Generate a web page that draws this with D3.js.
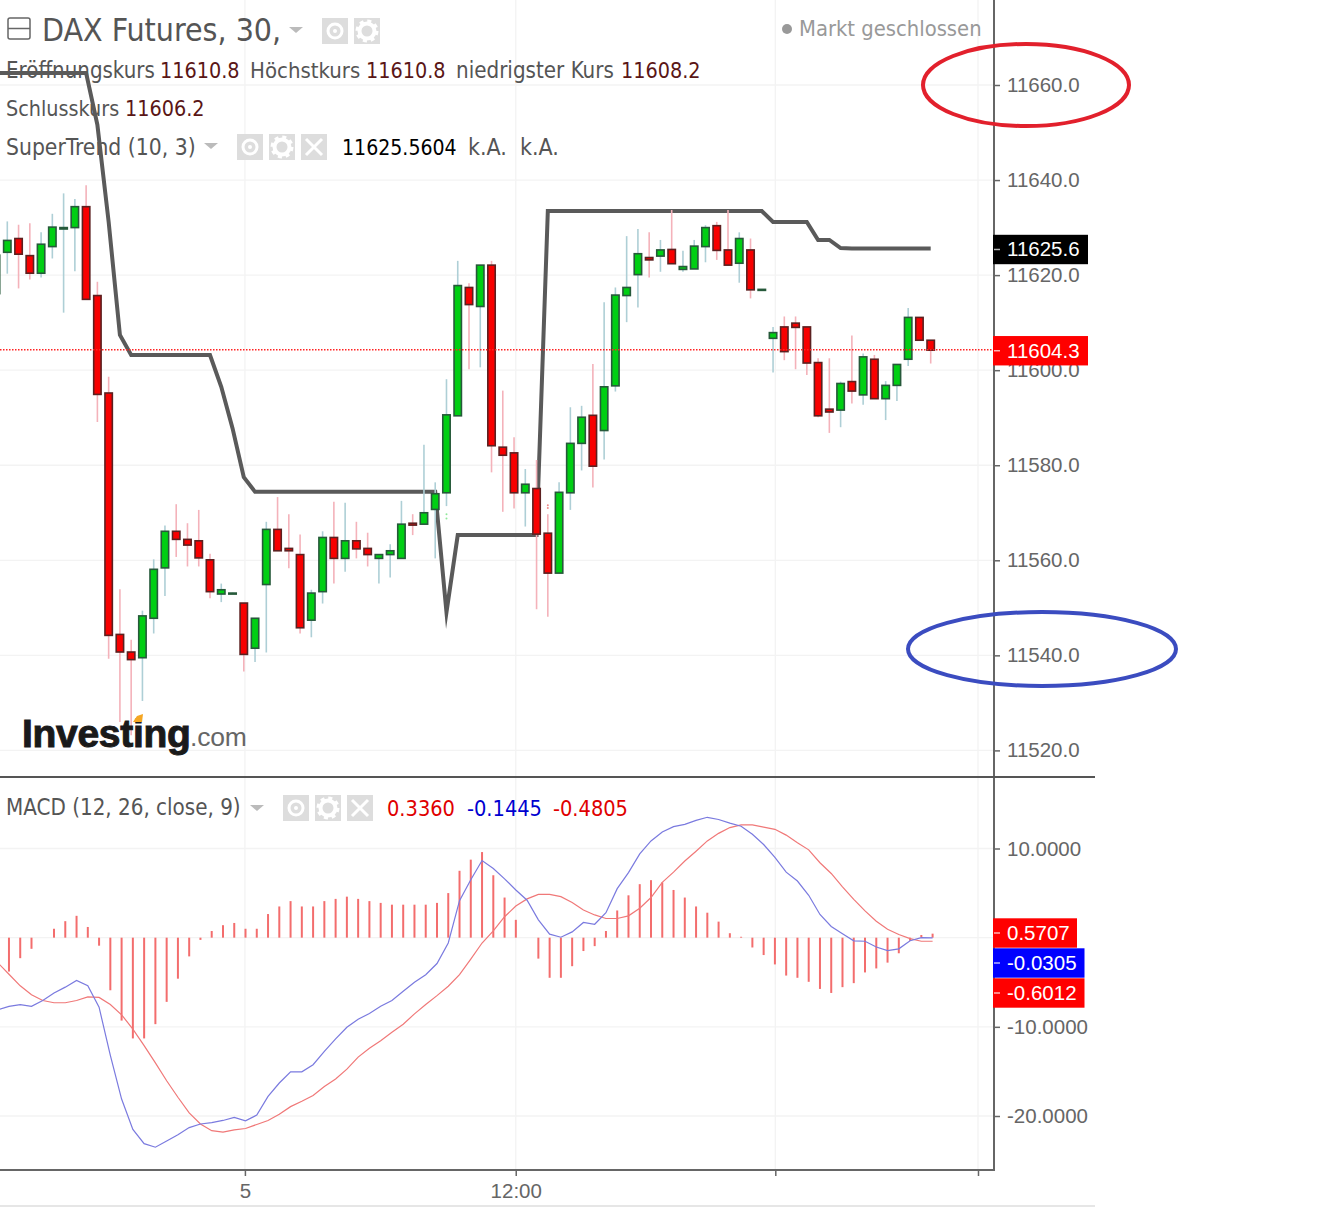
<!DOCTYPE html>
<html>
<head>
<meta charset="utf-8">
<title>DAX Futures</title>
<script src="https://cdn.jsdelivr.net/npm/d3@7"></script>
<style>
  body { margin: 0; background: #fff; }
  svg { display: block; }
  .legend { font-family: "DejaVu Sans Condensed", "DejaVu Sans", sans-serif; font-stretch: condensed; }
  .axis text, .badge text { font-family: "Liberation Sans", Arial, sans-serif; font-size: 20.5px; }
</style>
</head>
<body>
<div id="chart"></div>
<script>
// candles (first one is cut by the left edge)
const opens = [11616.1,11624.8,11627.7,11624.1,11620.4,11626.0,11629.7,11630.0,11634.4,11615.7,11595.2,11544.4,11540.7,11539.5,11547.8,11558.4,11566.1,11564.4,11564.1,11560.1,11552.9,11553.1,11551.0,11541.5,11554.9,11566.5,11562.5,11561.2,11547.4,11553.4,11564.8,11560.4,11564.1,11562.5,11560.4,11561.2,11560.4,11567.8,11567.6,11570.7,11574.2,11590.4,11617.4,11613.4,11622.1,11583.8,11582.6,11574.2,11575.1,11565.7,11557.3,11574.2,11584.6,11590.5,11587.3,11596.7,11615.7,11620.1,11623.7,11624.0,11625.4,11621.2,11621.3,11626.0,11630.4,11625.3,11622.5,11625.3,11616.8,11606.7,11609.1,11609.9,11609.1,11601.6,11591.8,11591.6,11597.6,11594.8,11602.3,11594.0,11596.8,11602.3,11611.1,11606.3];
const highs = [11626.0,11631.3,11630.6,11630.9,11629.0,11632.9,11637.2,11636.0,11638.9,11618.6,11598.6,11553.9,11543.3,11549.4,11560.2,11567.3,11571.8,11567.8,11570.6,11561.4,11555.1,11553.2,11551.0,11547.8,11568.1,11573.3,11569.7,11565.4,11553.8,11566.1,11572.3,11572.1,11568.1,11565.8,11561.2,11563.4,11572.5,11569.7,11584.3,11576.4,11598.1,11623.0,11618.3,11622.1,11623.0,11595.7,11585.9,11579.2,11581.1,11569.7,11576.4,11592.2,11592.5,11601.3,11614.3,11617.4,11628.2,11629.7,11629.0,11627.4,11633.7,11625.1,11627.4,11630.5,11631.2,11633.7,11629.0,11627.7,11617.0,11609.1,11611.3,11611.3,11609.1,11602.5,11602.5,11597.6,11607.3,11603.5,11603.2,11597.7,11601.2,11613.1,11611.1,11606.3];
const lows = [11612.0,11620.3,11617.2,11619.1,11619.5,11623.5,11612.1,11620.8,11614.9,11589.1,11539.3,11526.0,11523.2,11530.4,11544.6,11552.5,11560.7,11558.7,11558.7,11552.0,11551.2,11553.1,11536.6,11538.6,11540.6,11562.0,11558.3,11544.6,11543.8,11550.9,11555.1,11557.6,11560.4,11558.7,11555.1,11556.4,11560.4,11565.3,11567.6,11560.4,11571.4,11590.4,11600.2,11600.6,11578.5,11570.2,11570.9,11567.1,11549.7,11548.1,11557.3,11570.6,11578.9,11575.3,11581.2,11595.5,11610.1,11613.2,11619.5,11620.7,11622.4,11620.7,11621.3,11622.7,11623.2,11622.1,11618.4,11615.1,11616.8,11599.5,11602.1,11600.2,11599.0,11590.1,11586.8,11588.0,11593.0,11592.7,11594.0,11589.5,11593.5,11600.9,11606.3,11601.4];
const closes = [11624.2,11627.3,11624.4,11620.4,11626.5,11630.1,11630.0,11634.4,11614.9,11594.9,11544.2,11540.7,11539.1,11548.3,11558.1,11566.1,11564.4,11563.2,11560.5,11553.4,11553.8,11553.1,11540.2,11547.8,11566.5,11562.0,11562.0,11545.8,11553.1,11564.8,11560.4,11564.1,11562.4,11561.2,11561.2,11562.0,11567.6,11567.4,11570.0,11574.0,11590.6,11617.8,11613.8,11622.1,11584.1,11582.1,11574.2,11576.0,11565.5,11557.3,11574.3,11584.6,11590.1,11579.8,11596.5,11615.8,11617.4,11624.5,11623.2,11625.3,11622.4,11621.8,11626.1,11630.0,11625.2,11622.1,11627.7,11616.9,11617.0,11607.9,11603.9,11609.0,11601.5,11590.4,11591.2,11597.2,11595.6,11602.8,11594.0,11596.8,11601.2,11611.1,11606.3,11604.2];

// supertrend (10, 3)
const superTrend = [11662.5,11662.5,11662.5,11662.5,11662.5,11662.5,11662.5,11662.5,11662.5,11651.6,11631.2,11607.4,11603.2,11603.2,11603.2,11603.2,11603.2,11603.2,11603.2,11603.2,11596.5,11587.8,11577.5,11574.4,11574.4,11574.4,11574.4,11574.4,11574.4,11574.4,11574.4,11574.4,11574.4,11574.4,11574.4,11574.4,11574.4,11574.4,11574.4,11574.4,11549.1,11565.3,11565.3,11565.3,11565.3,11565.3,11565.3,11565.3,11565.3,11633.5,11633.5,11633.5,11633.5,11633.5,11633.5,11633.5,11633.5,11633.5,11633.5,11633.5,11633.5,11633.5,11633.5,11633.5,11633.5,11633.5,11633.5,11633.5,11633.5,11631.2,11631.2,11631.2,11631.2,11627.4,11627.4,11625.7,11625.6,11625.6,11625.6,11625.6,11625.6,11625.6,11625.6,11625.6];

// macd (12, 26, close, 9)
const macdHist = [-3.0,-3.8,-2.3,-1.25,0,1.0,1.85,2.45,1.2,-0.9,-5.9,-9.3,-11.3,-11.3,-9.7,-7.2,-4.6,-2.1,-0.25,0.75,1.4,1.65,1.0,1.0,2.65,3.5,4.1,3.5,3.5,4.1,4.35,4.6,4.35,4.1,3.9,3.7,3.7,3.7,3.7,3.9,5.0,7.5,8.75,9.6,7.0,4.5,2.0,0,-2.35,-4.5,-4.5,-3.2,-1.5,-0.95,0.75,3.05,4.75,6.0,6.45,6.2,5.35,4.5,3.5,2.8,1.8,0.5,0.1,-1.1,-1.95,-3.0,-4.25,-4.5,-4.95,-5.75,-6.2,-5.55,-5.1,-3.9,-3.45,-2.8,-1.75,-0.35,0.3,0.45];
const macdLine = [-8.1,-7.7,-7.5,-7.7,-7.05,-6.2,-5.55,-4.8,-5.4,-7.8,-13.2,-18.1,-21.5,-23.1,-23.5,-22.8,-22.1,-21.3,-20.9,-20.75,-20.5,-20.15,-20.55,-19.9,-17.8,-16.3,-15.05,-15.05,-14.25,-12.75,-11.35,-10.05,-9.15,-8.5,-7.7,-7.05,-6.0,-5.0,-4.15,-2.9,-0.6,4.15,6.5,8.65,7.75,6.6,5.35,4.2,2.0,0.4,0.05,0.65,1.7,1.5,2.8,5.5,7.3,9.4,10.85,11.85,12.45,12.7,13.15,13.5,13.25,12.85,12.5,11.6,10.45,9.0,7.35,6.35,4.75,2.6,1.25,0.45,-0.35,-0.4,-1.05,-1.45,-1.25,-0.35,0,-0.03];
const macdSignal = [-2.8,-4.1,-5.4,-6.4,-7.05,-7.3,-7.3,-7.05,-6.65,-6.7,-7.5,-8.65,-10.25,-12.1,-14.05,-16.05,-17.9,-19.65,-20.9,-21.65,-21.8,-21.55,-21.4,-20.95,-20.5,-19.8,-18.95,-18.35,-17.7,-16.7,-15.85,-14.75,-13.4,-12.4,-11.55,-10.6,-9.7,-8.55,-7.5,-6.5,-5.45,-4.15,-2.4,-0.6,0.75,2.35,3.55,4.35,4.85,4.85,4.6,3.95,3.1,2.55,2.15,2.15,2.45,3.3,4.5,6.2,7.35,8.6,9.7,10.85,11.7,12.35,12.65,12.65,12.4,12.15,11.5,10.65,9.85,8.4,7.2,5.7,4.3,3.0,1.85,0.95,0.35,-0.1,-0.4,-0.4];

// axis ticks
const priceTicks = [11660,11640,11620,11600,11580,11560,11540,11520];
const macdTicks = [10,-10,-20];
const macdGrid = [10,0,-10,-20];
const timeTicks = [22.1,46.15,69.2,87.2];
const timeLabels = ["5","12:00","",""];
const lastPrice = 11604.3;
const lastTrend = 11625.6;
const macdBadges = ["0.5707","-0.0305","-0.6012"];
const macdBadgeColors = ["#f00","#00f","#f00"];

const width = 1319;
const height = 1210;
const axisX = 994;

const svg = d3.select("#chart").append("svg")
    .attr("width", width)
    .attr("height", height);

// the macd pane sits a hair to the right of the candles in the screenshot
const x = d3.scaleLinear().domain([0, 83]).range([-3.96, 930.7]);
const xMacd = d3.scaleLinear().domain([0, 83]).range([-2.3, 932.6]);
const y = d3.scaleLinear().domain([11660, 11520]).range([85, 750.4]);
const yMacd = d3.scaleLinear().domain([10, -20]).range([848.5, 1116]);

const idx = d3.range(opens.length);

// grid
const grid = svg.append("g").attr("stroke", "#f3f3f3").attr("stroke-width", 1.3);
grid.selectAll(".hp").data(priceTicks).enter().append("line")
    .attr("x1", 0).attr("x2", axisX).attr("y1", d => y(d)).attr("y2", d => y(d));
grid.selectAll(".hm").data(macdGrid).enter().append("line")
    .attr("x1", 0).attr("x2", axisX).attr("y1", d => yMacd(d)).attr("y2", d => yMacd(d));
grid.selectAll(".v").data(timeTicks).enter().append("line")
    .attr("x1", d => x(d)).attr("x2", d => x(d)).attr("y1", 0).attr("y2", 1170);

// legend text goes under the marks
const legend = svg.append("g").attr("class", "legend");
function label(txt, px, py, size, color) {
    legend.append("text").attr("x", px).attr("y", py)
        .attr("font-size", size).attr("fill", color).text(txt);
}
const grey = "#555";
const maroon = "#5a1616";
label("DAX Futures, 30,", 42, 41, 31.8, grey);
label("Eröffnungskurs", 6, 78, 22.1, grey);
label("11610.8", 160, 78, 21.4, maroon);
label("Höchstkurs", 250, 78, 22, grey);
label("11610.8", 366, 78, 21.4, maroon);
label("niedrigster Kurs", 456, 78, 22.2, grey);
label("11608.2", 621, 78, 21.4, maroon);
label("Schlusskurs", 6, 116, 21.4, grey);
label("11606.2", 125, 116, 21.4, maroon);
label("SuperTrend (10, 3)", 6, 155, 22.7, grey);
label("11625.5604", 342, 155, 21.1, "#000");
label("k.A.", 468, 155, 23, grey);
label("k.A.", 520, 155, 23, grey);
label("MACD (12, 26, close, 9)", 6, 815, 22.2, grey);
label("0.3360", 387, 816, 21.6, "#e00000");
label("-0.1445", 467, 816, 21.6, "#0000d0");
label("-0.4805", 553, 816, 21.6, "#e00000");
label("Markt geschlossen", 799, 36, 21.8, "#999");
legend.append("circle").attr("cx", 787).attr("cy", 29).attr("r", 5).attr("fill", "#999");

// collapse box in the title
legend.append("rect").attr("x", 8).attr("y", 18).attr("width", 22).attr("height", 21).attr("rx", 2)
    .attr("fill", "none").attr("stroke", "#666").attr("stroke-width", 1.5);
legend.append("line").attr("x1", 8).attr("x2", 30).attr("y1", 28.5).attr("y2", 28.5)
    .attr("stroke", "#666").attr("stroke-width", 1.5);

function caret(px, py) {
    legend.append("path").attr("d", `M${px},${py}h14l-7,6z`).attr("fill", "#bbb");
}
caret(289, 27);
caret(204, 143);
caret(250, 805);

function iconBox(px, py, kind) {
    const s = 26;
    const g = legend.append("g").attr("transform", `translate(${px},${py})`);
    g.append("rect").attr("width", s).attr("height", s).attr("fill", "#ddd");
    if (kind === "eye") {
        g.append("circle").attr("cx", s / 2).attr("cy", s / 2).attr("r", 7)
            .attr("fill", "none").attr("stroke", "#fff").attr("stroke-width", 3);
        g.append("circle").attr("cx", s / 2).attr("cy", s / 2).attr("r", 2).attr("fill", "#fff");
    } else if (kind === "gear") {
        g.append("circle").attr("cx", s / 2).attr("cy", s / 2).attr("r", 7.5)
            .attr("fill", "none").attr("stroke", "#fff").attr("stroke-width", 4);
        g.append("circle").attr("cx", s / 2).attr("cy", s / 2).attr("r", 10)
            .attr("fill", "none").attr("stroke", "#fff").attr("stroke-width", 3)
            .attr("stroke-dasharray", "4 3.85");
    } else {
        g.append("path").attr("d", "M5,5L21,21M21,5L5,21")
            .attr("stroke", "#fff").attr("stroke-width", 3);
    }
}
iconBox(322, 18, "eye");
iconBox(354, 18, "gear");
iconBox(237, 134, "eye");
iconBox(269, 134, "gear");
iconBox(301, 134, "x");
iconBox(283, 795, "eye");
iconBox(315, 795, "gear");
iconBox(347, 795, "x");

// supertrend
const trendLine = d3.line().x((d, i) => x(i)).y(d => y(d));
svg.append("path").datum(superTrend)
    .attr("d", trendLine)
    .attr("fill", "none")
    .attr("stroke", "#5a5a5a")
    .attr("stroke-width", 4)
    .attr("stroke-miterlimit", 20);

// candles
const candles = svg.append("g");
candles.selectAll(".wick").data(idx).enter().append("line")
    .attr("x1", i => x(i)).attr("x2", i => x(i))
    .attr("y1", i => y(highs[i])).attr("y2", i => y(lows[i]))
    .attr("stroke", i => closes[i] >= opens[i] ? "#aecfd6" : "#f4b2ba")
    .attr("stroke-width", 1.6);
candles.selectAll(".body").data(idx).enter().append("rect")
    .attr("x", i => x(i) - 3.7)
    .attr("width", 7.4)
    .attr("y", i => y(Math.max(opens[i], closes[i])))
    .attr("height", i => Math.max(1, Math.abs(y(opens[i]) - y(closes[i]))))
    .attr("fill", i => closes[i] >= opens[i] ? "#00cf13" : "#f80000")
    .attr("stroke", i => closes[i] >= opens[i] ? "#26593a" : "#5c2020")
    .attr("stroke-width", 1.6);

// tiny marks the indicator leaves
const upMarks = [[40, 11569.7], [40, 11568.8]];
const downMarks = [[49, 11571.6], [49, 11571.0]];
svg.selectAll(".up").data(upMarks).enter().append("circle")
    .attr("cx", d => x(d[0])).attr("cy", d => y(d[1])).attr("r", 1).attr("fill", "#8fe89a");
svg.selectAll(".down").data(downMarks).enter().append("circle")
    .attr("cx", d => x(d[0])).attr("cy", d => y(d[1])).attr("r", 1).attr("fill", "#f08a8a");

// last price line
svg.append("line")
    .attr("x1", 0).attr("x2", axisX).attr("y1", y(lastPrice)).attr("y2", y(lastPrice))
    .attr("stroke", "#f22").attr("stroke-width", 1.3).attr("stroke-dasharray", "1.5 1.5");

// macd histogram and lines
svg.append("g").selectAll("line").data(idx).enter().append("line")
    .attr("x1", i => xMacd(i)).attr("x2", i => xMacd(i))
    .attr("y1", yMacd(0)).attr("y2", i => yMacd(macdHist[i]))
    .attr("stroke", "#f36d6d").attr("stroke-width", 2);
const macdPath = d3.line().x((d, i) => xMacd(i)).y(d => yMacd(d));
svg.append("path").datum(macdSignal).attr("d", macdPath)
    .attr("fill", "none").attr("stroke", "#f07878").attr("stroke-width", 1.2);
svg.append("path").datum(macdLine).attr("d", macdPath)
    .attr("fill", "none").attr("stroke", "#7a7adf").attr("stroke-width", 1.2);

// logo
svg.append("text").attr("x", 22).attr("y", 747)
    .attr("font-family", "Liberation Sans").attr("font-weight", "bold").attr("font-size", 39)
    .attr("letter-spacing", -0.3)
    .attr("fill", "#1a1a1a").attr("stroke", "#1a1a1a").attr("stroke-width", 1)
    .text("Investing");
svg.append("text").attr("x", 190).attr("y", 746)
    .attr("font-family", "Liberation Sans").attr("font-size", 26.5)
    .attr("letter-spacing", -0.2)
    .attr("fill", "#666").text(".com");
svg.append("path").attr("d", "M133,722L137,716L143,714L142,722Z").attr("fill", "#f5a623");

// axes, the chart prints plain hyphens for negatives
const hyphen = f => d => f(d).replace("\u2212", "-");
const axisStyle = g => {
    g.attr("class", "axis");
    g.selectAll("text").attr("fill", "#666");
    g.selectAll("line").attr("stroke", "#666").attr("stroke-width", 1.5);
    g.select(".domain").remove();
};
svg.append("g").attr("transform", `translate(${axisX},0)`)
    .call(d3.axisRight(y).tickValues(priceTicks).tickFormat(d3.format(".1f")).tickSize(6).tickPadding(7))
    .call(axisStyle);
svg.append("g").attr("transform", `translate(${axisX},0)`)
    .call(d3.axisRight(yMacd).tickValues(macdTicks).tickFormat(hyphen(d3.format(".4f"))).tickSize(6).tickPadding(7))
    .call(axisStyle);
svg.append("g").attr("transform", "translate(0,1170)")
    .call(d3.axisBottom(x).tickValues(timeTicks).tickFormat((d, i) => timeLabels[i]).tickSize(6).tickPadding(7))
    .call(axisStyle);

// axis frame
const frame = svg.append("g").attr("stroke", "#666").attr("stroke-width", 2);
frame.append("line").attr("x1", axisX).attr("x2", axisX).attr("y1", 0).attr("y2", 1171);
frame.append("line").attr("x1", 0).attr("x2", axisX).attr("y1", 1170).attr("y2", 1170);
frame.append("line").attr("x1", 0).attr("x2", 1095).attr("y1", 777).attr("y2", 777).attr("stroke", "#555");
svg.append("line").attr("x1", 0).attr("x2", 1095).attr("y1", 1206).attr("y2", 1206)
    .attr("stroke", "#e6e6e6").attr("stroke-width", 2);

// value badges on the axis
function badge(txt, cy, w, fill) {
    const g = svg.append("g").attr("class", "badge");
    g.append("rect").attr("x", axisX - 1).attr("y", cy - 14.7).attr("width", w).attr("height", 29.4).attr("fill", fill);
    g.append("line").attr("x1", axisX).attr("x2", axisX + 6).attr("y1", cy).attr("y2", cy)
        .attr("stroke", "#fff").attr("stroke-opacity", 0.7).attr("stroke-width", 1.5);
    g.append("text").attr("x", axisX + 13).attr("y", cy + 7).attr("fill", "#fff").text(txt);
}
badge(d3.format(".1f")(lastTrend), y(lastTrend) + 1, 95, "#000");
badge(d3.format(".1f")(lastPrice), y(lastPrice) + 1, 95, "#f00");
const badgeWidths = [84, 91.5, 91.5];
macdBadges.forEach((d, i) => badge(d, 933 + i * 30, badgeWidths[i], macdBadgeColors[i]));

// hand drawn rings around the two levels
svg.append("ellipse").attr("cx", 1026).attr("cy", 85).attr("rx", 103).attr("ry", 41)
    .attr("fill", "none").attr("stroke", "#e2202c").attr("stroke-width", 4);
svg.append("ellipse").attr("cx", 1042).attr("cy", 649).attr("rx", 134).attr("ry", 37)
    .attr("fill", "none").attr("stroke", "#3b4cc0").attr("stroke-width", 4);
</script>
</body>
</html>
